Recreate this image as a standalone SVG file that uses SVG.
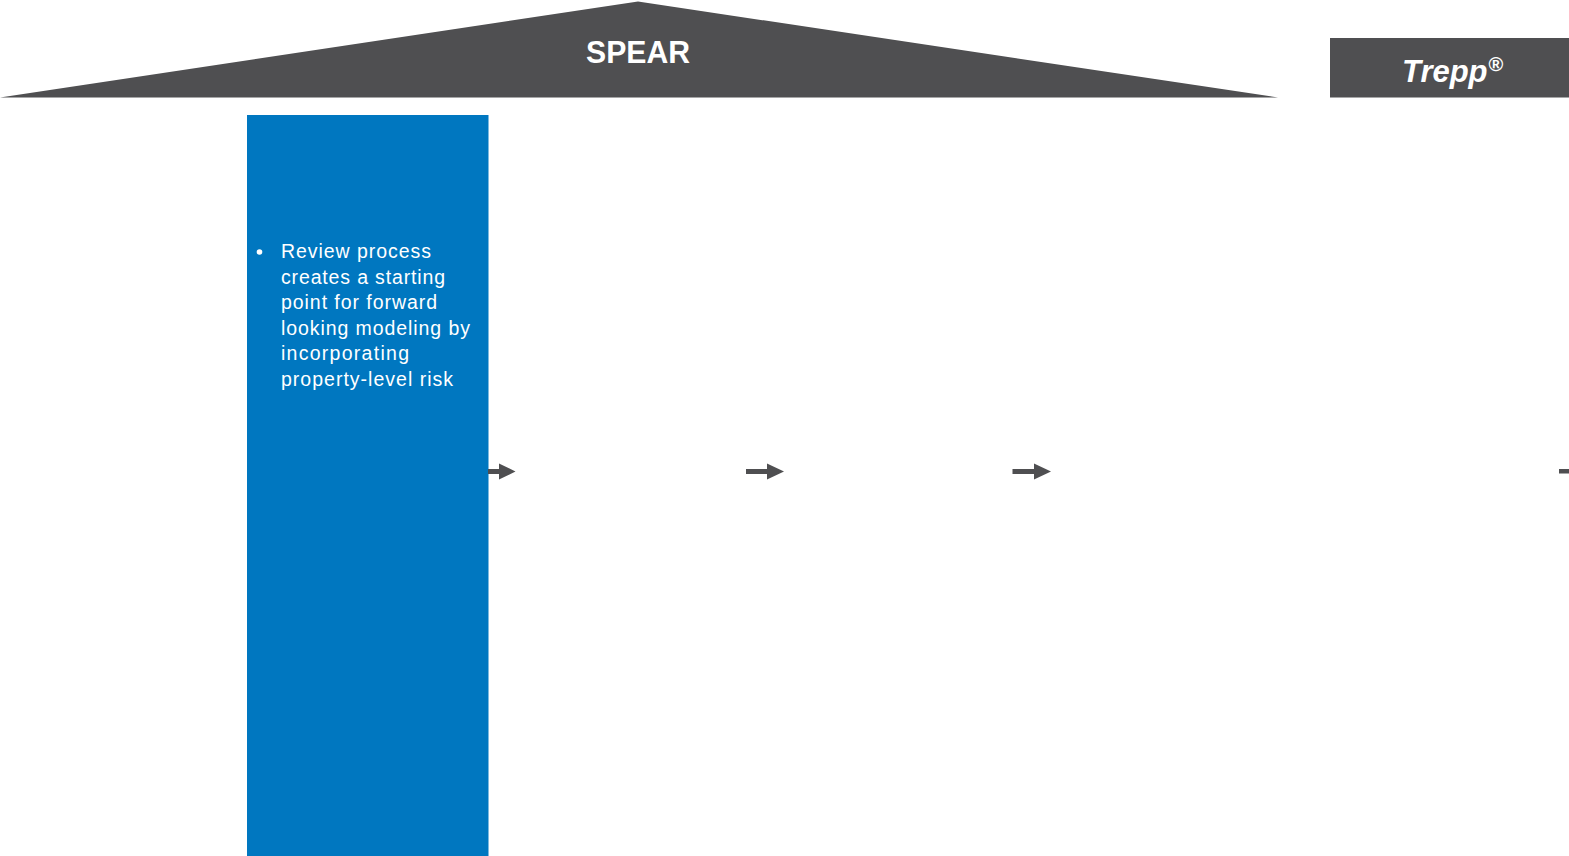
<svg xmlns="http://www.w3.org/2000/svg" width="1569" height="856" viewBox="0 0 1569 856">
<defs>
<style>
.dark{fill:#4f4f51;}
.arrow{fill:#4f4f51;}
.body{font-family:"Liberation Sans",Arial,sans-serif;font-size:19.5px;fill:#ffffff;}
.title{font-family:"Liberation Sans",Arial,sans-serif;font-weight:bold;fill:#ffffff;}
</style>
</defs>
<rect width="1569" height="856" fill="#ffffff"/>
<g id="spear">
<polygon class="dark" points="0,97.5 638,1.5 1278,97.5"/>
<text class="title" x="638" y="63" font-size="31" text-anchor="middle" textLength="104" lengthAdjust="spacingAndGlyphs">SPEAR</text>
</g>
<g id="trepp">
<rect class="dark" x="1330" y="38" width="239" height="59.5"/>
<text class="title" x="1402" y="82" font-size="31" font-style="italic">Trepp<tspan font-size="20" dy="-11" dx="1" font-style="normal">®</tspan></text>
</g>
<g id="review">
<rect x="247" y="115" width="241.5" height="741" fill="#0077c0"/>
<circle cx="259.5" cy="252" r="2.8" fill="#ffffff"/>
<text class="body">
<tspan x="281" y="258" textLength="150" lengthAdjust="spacing">Review process</tspan>
<tspan x="281" y="283.6" textLength="164" lengthAdjust="spacing">creates a starting</tspan>
<tspan x="281" y="309.2" textLength="156" lengthAdjust="spacing">point for forward</tspan>
<tspan x="281" y="334.8" textLength="189" lengthAdjust="spacing">looking modeling by</tspan>
<tspan x="281" y="360.4" textLength="128" lengthAdjust="spacing">incorporating</tspan>
<tspan x="281" y="386" textLength="172" lengthAdjust="spacing">property-level risk</tspan>
</text>
</g>
<g id="connectors">
<polygon class="arrow" points="488,469 499,469 499,463.5 515.5,471.5 499,479.5 499,474 488,474"/>
<polygon class="arrow" points="746,469 767,469 767,463.5 784,471.5 767,479.5 767,474 746,474"/>
<polygon class="arrow" points="1012.5,469 1034,469 1034,463.5 1051,471.5 1034,479.5 1034,474 1012.5,474"/>
<rect class="arrow" x="1559" y="469" width="10" height="4.5"/>
</g>
</svg>
